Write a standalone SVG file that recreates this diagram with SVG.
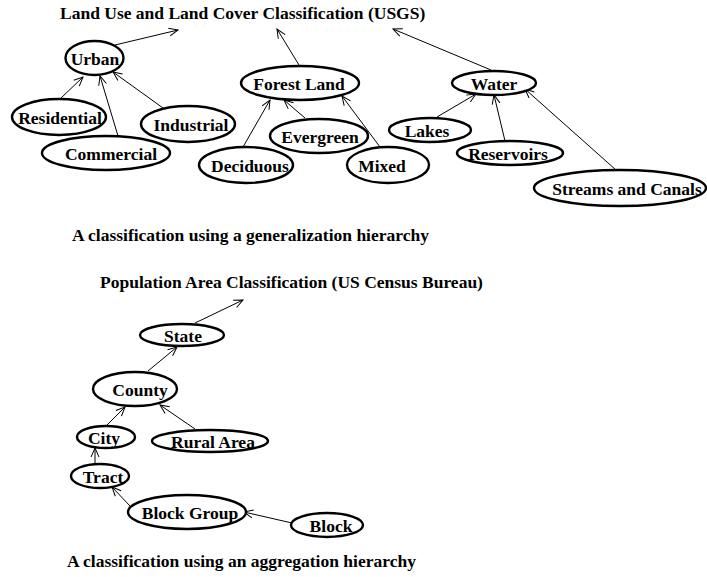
<svg xmlns="http://www.w3.org/2000/svg" width="707" height="577" viewBox="0 0 707 577">
<style>
text{font-family:"Liberation Serif","Times New Roman",serif;font-weight:bold;font-size:17.5px;fill:#000}
.n text{text-anchor:middle}
.n ellipse{fill:#fff;stroke:#000;stroke-width:2.4}
.e line{stroke:#000;stroke-width:1;marker-end:url(#a)}
</style>
<defs>
<marker id="a" markerUnits="userSpaceOnUse" markerWidth="12" markerHeight="12" refX="10" refY="5" orient="auto" viewBox="0 0 12 10">
<path d="M1,1 L10,5 L1,9" fill="none" stroke="#000" stroke-width="1"/>
</marker>
</defs>
<rect width="707" height="577" fill="#fff"/>
<text x="60" y="18.5">Land Use and Land Cover Classification (USGS)</text>
<text x="72" y="240.5">A classification using a generalization hierarchy</text>
<text x="100" y="288">Population Area Classification (US Census Bureau)</text>
<text x="67" y="567">A classification using an aggregation hierarchy</text>
<g class="e" id="connectors">
<line x1="115" y1="45" x2="178" y2="30"/>
<line x1="60" y1="99" x2="83" y2="77"/>
<line x1="118" y1="136" x2="100" y2="76"/>
<line x1="163" y1="108" x2="113" y2="72"/>
<line x1="299" y1="65" x2="277" y2="29"/>
<line x1="243" y1="147" x2="270" y2="100"/>
<line x1="305" y1="118" x2="284" y2="100"/>
<line x1="380" y1="147" x2="342" y2="96"/>
<line x1="491" y1="70" x2="393" y2="29"/>
<line x1="437" y1="117" x2="476" y2="94"/>
<line x1="505" y1="141" x2="494" y2="95"/>
<line x1="616" y1="170" x2="525" y2="89"/>
<line x1="195" y1="323" x2="243" y2="300"/>
<line x1="148" y1="371" x2="177" y2="347"/>
<line x1="107" y1="425" x2="125" y2="407"/>
<line x1="195" y1="429" x2="160" y2="405"/>
<line x1="95" y1="464" x2="95" y2="448"/>
<line x1="130" y1="506" x2="112" y2="487"/>
<line x1="292" y1="523" x2="244" y2="512"/>
</g>
<g class="n" id="urban"><ellipse cx="94.5" cy="58" rx="29" ry="17"/><text x="95" y="64.5">Urban</text></g>
<g class="n" id="residential"><ellipse cx="59" cy="117" rx="47" ry="18"/><text x="60" y="123.5">Residential</text></g>
<g class="n" id="commercial"><ellipse cx="106" cy="153" rx="64" ry="17"/><text x="111" y="159.5">Commercial</text></g>
<g class="n" id="industrial"><ellipse cx="188" cy="124" rx="47" ry="18"/><text x="191" y="130.5">Industrial</text></g>
<g class="n" id="forest"><ellipse cx="300" cy="83" rx="59" ry="17"/><text x="299" y="89.5">Forest Land</text></g>
<g class="n" id="evergreen"><ellipse cx="319" cy="136" rx="49" ry="17"/><text x="320" y="142.5">Evergreen</text></g>
<g class="n" id="deciduous"><ellipse cx="246" cy="165" rx="47" ry="18"/><text x="250" y="171.5">Deciduous</text></g>
<g class="n" id="mixed"><ellipse cx="388" cy="165" rx="41" ry="18"/><text x="382" y="171.5">Mixed</text></g>
<g class="n" id="water"><ellipse cx="494" cy="83" rx="42" ry="12"/><text x="494" y="89.5">Water</text></g>
<g class="n" id="lakes"><ellipse cx="430" cy="130" rx="41" ry="12"/><text x="427" y="136.5">Lakes</text></g>
<g class="n" id="reservoirs"><ellipse cx="510" cy="153" rx="53" ry="12"/><text x="508" y="159.5">Reservoirs</text></g>
<g class="n" id="streams"><ellipse cx="620" cy="188" rx="86" ry="18"/><text x="627" y="194.5">Streams and Canals</text></g>
<g class="n" id="state"><ellipse cx="182" cy="335" rx="42" ry="11"/><text x="183" y="341.5">State</text></g>
<g class="n" id="county"><ellipse cx="135" cy="389" rx="42" ry="17"/><text x="140" y="395.5">County</text></g>
<g class="n" id="city"><ellipse cx="106" cy="437" rx="29" ry="11"/><text x="104" y="443.5">City</text></g>
<g class="n" id="rural"><ellipse cx="210" cy="441" rx="58" ry="11"/><text x="213" y="447.5">Rural Area</text></g>
<g class="n" id="tract"><ellipse cx="100" cy="476" rx="29" ry="12"/><text x="103" y="482.5">Tract</text></g>
<g class="n" id="blockgroup"><ellipse cx="187" cy="512" rx="59" ry="17"/><text x="190" y="518.5">Block Group</text></g>
<g class="n" id="block"><ellipse cx="327" cy="525" rx="36" ry="12"/><text x="331" y="531.5">Block</text></g>
</svg>
